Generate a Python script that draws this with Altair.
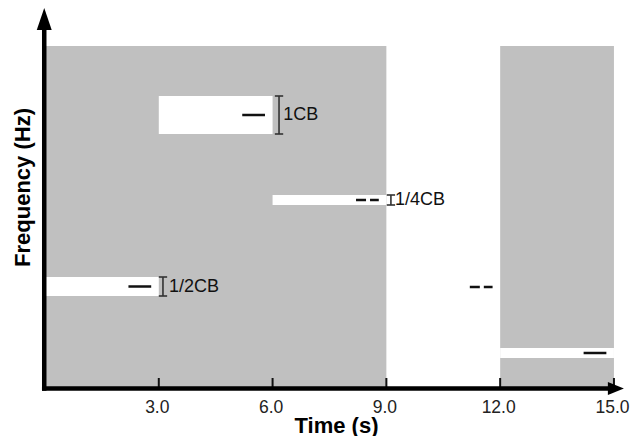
import altair as alt
import pandas as pd

# ---- data (time in s, frequency in arbitrary units) ----
block_x0 = [0, 12]
block_x1 = [9, 15]
block_top = [342, 342]

notch_x0 = [0, 3, 6, 12]
notch_x1 = [3, 6, 9, 15]
notch_lo = [92, 254, 183, 30]
notch_hi = [111, 292, 193, 40]

dash_x0 = [2.2, 5.2, 8.2, 11.2, 14.2]
dash_x1 = [2.8, 5.8, 8.8, 11.8, 14.8]
dash_y = [101.5, 273, 188, 101, 35]
dash_style = ["solid", "solid", "dashed", "dashed", "solid"]

br_x = [3.11, 6.17, 9.12]
br_lo = [92, 254, 183]
br_hi = [111, 292, 193]
br_label = ["1/2CB", "1CB", "1/4CB"]
label_x = [3.27, 6.28, 9.23]

tick_values = [3, 6, 9, 12, 15]

FONT = "Liberation Sans"
XMAX = 580 / 37.93
xs = alt.Scale(domain=[0, XMAX], nice=False, zero=False)
ys = alt.Scale(domain=[0, 380], nice=False, zero=False)

blocks = pd.DataFrame({"x0": block_x0, "x1": block_x1, "y0": [0, 0], "y1": block_top})
notches = pd.DataFrame({"x0": notch_x0, "x1": notch_x1, "y0": notch_lo, "y1": notch_hi})
dashes = pd.DataFrame({"x0": dash_x0, "x1": dash_x1, "y": dash_y, "style": dash_style})
brackets = pd.DataFrame({"x": br_x, "lo": br_lo, "hi": br_hi})
caps = pd.DataFrame({
    "x0": [x - 0.11 for x in br_x] * 2,
    "x1": [x + 0.11 for x in br_x] * 2,
    "y": br_lo + br_hi,
})
labels = pd.DataFrame({"x": label_x, "y": [(a + b) / 2 for a, b in zip(br_lo, br_hi)], "t": br_label})
ticks = pd.DataFrame({"x": tick_values, "y0": [0] * 5, "y1": [10] * 5})

xaxis = alt.Axis(values=tick_values, format=".1f", labelFontSize=17.5, labelColor="#222",
                 labelFont=FONT, ticks=False, tickSize=0, domain=False, grid=False,
                 labelPadding=10, labelOffset=-2, title="Time (s)", titleFontSize=22,
                 titleFont=FONT, titleFontWeight="bold", titleColor="#000",
                 titleX=291, titleY=44, titleAlign="center", titleBaseline="alphabetic")
yaxis = alt.Axis(labels=False, ticks=False, domain=False, grid=False,
                 title="Frequency (Hz)", titleFontSize=22, titleFont=FONT,
                 titleFontWeight="bold", titleColor="#000", titleAngle=270,
                 titleX=-23, titleY=179, titleAlign="center", titleBaseline="middle")


def X(f):
    return alt.X(f, scale=xs, axis=xaxis)


def Y(f):
    return alt.Y(f, scale=ys, axis=yaxis)


grey = alt.Chart(blocks).mark_rect(color="#c0c0c0").encode(
    x=X("x0:Q"), x2="x1:Q", y=Y("y0:Q"), y2="y1:Q")

white = alt.Chart(notches).mark_rect(color="white").encode(
    x=X("x0:Q"), x2="x1:Q", y=Y("y0:Q"), y2="y1:Q")

dash_layer = alt.Chart(dashes).mark_rule(color="#111", strokeWidth=2.6).encode(
    x=X("x0:Q"), x2="x1:Q", y=Y("y:Q"),
    strokeDash=alt.StrokeDash("style:N", scale=alt.Scale(domain=["solid", "dashed"],
                                                         range=[[1, 0], [10, 4]]), legend=None))

br_v = alt.Chart(brackets).mark_rule(color="#333", strokeWidth=1.6).encode(
    x=X("x:Q"), y=Y("lo:Q"), y2="hi:Q")
br_c = alt.Chart(caps).mark_rule(color="#333", strokeWidth=1.6).encode(
    x=X("x0:Q"), x2="x1:Q", y=Y("y:Q"))

text = alt.Chart(labels).mark_text(align="left", baseline="middle", fontSize=18,
                                   font=FONT, color="#111").encode(
    x=X("x:Q"), y=Y("y:Q"), text="t:N")

tick_layer = alt.Chart(ticks).mark_rule(color="#111", strokeWidth=2).encode(
    x=X("x:Q"), y=Y("y0:Q"), y2="y1:Q")

yline = alt.Chart(pd.DataFrame({"x": [-0.02], "y0": [-2.8], "y1": [362]})).mark_rule(
    color="#000", strokeWidth=4.5).encode(x=X("x:Q"), y=Y("y0:Q"), y2="y1:Q")
xline = alt.Chart(pd.DataFrame({"x0": [-0.08], "x1": [XMAX - 0.35], "y": [-0.5]})).mark_rule(
    color="#000", strokeWidth=4.5).encode(x=X("x0:Q"), x2="x1:Q", y=Y("y:Q"))

up_arrow = alt.Chart(pd.DataFrame({"x": [-0.02], "y": [369]})).mark_point(
    shape="M0,-1L0.68,1L-0.68,1Z", size=484, filled=True, opacity=1,
    color="#000", strokeWidth=0).encode(x=X("x:Q"), y=Y("y:Q"))
right_arrow = alt.Chart(pd.DataFrame({"x": [XMAX - 0.24], "y": [-0.5]})).mark_point(
    shape="M1,0L-1,-0.8L-1,0.8Z", size=256, filled=True, opacity=1,
    color="#000", strokeWidth=0).encode(x=X("x:Q"), y=Y("y:Q"))

chart = alt.layer(grey, white, tick_layer, dash_layer, br_v, br_c, text,
                  yline, xline, up_arrow, right_arrow).properties(
    width=580, height=380,
    autosize=alt.AutoSizeParams(type="none"),
    padding={"left": 37, "top": 0, "right": 5, "bottom": 48},
).configure(font=FONT, view=alt.ViewConfig(stroke=None))

chart.save("out.html", embed_options={"renderer": "svg", "actions": False})
